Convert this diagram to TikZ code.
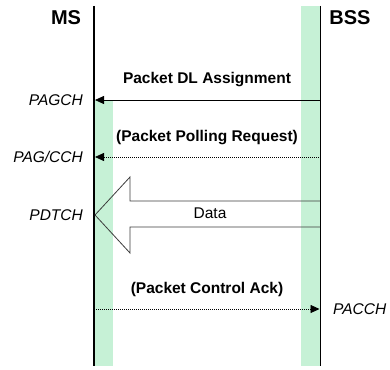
\documentclass[tikz,border=0pt]{standalone}
\usepackage{fontspec}
\setmainfont{Liberation Sans}
\usetikzlibrary{arrows.meta}
\definecolor{band}{RGB}{198,241,214}
\definecolor{arrowedge}{RGB}{60,60,60}
\tikzset{
  entity/.style={font=\fontsize{20}{24}\selectfont\bfseries, inner sep=0pt},
  msglabel/.style={font=\fontsize{15.5}{18}\selectfont\bfseries, inner sep=0pt},
  chanleft/.style={font=\fontsize{15.5}{18}\selectfont\itshape, inner sep=0pt, anchor=east},
  chanright/.style={font=\fontsize{15.5}{18}\selectfont\itshape, inner sep=0pt, anchor=west},
  lifeline/.style={line width=1.6pt, black},
  msg/.style={line width=0.8pt, -{Triangle[length=9pt,width=8pt]}},
  dottedmsg/.style={msg, dash pattern=on 1pt off 1pt},
}
\begin{document}
\begin{tikzpicture}[x=1pt,y=-1pt]
  \useasboundingbox (0,0) rectangle (390,369);

  % activity bands along the lifelines
  \fill[band] (95,100) rectangle (113,366);
  \fill[band] (301,6) rectangle (319.5,366);

  % entity headings
  \node[entity] (ms) at (66,18) {MS};
  \node[entity] (bss) at (350,18) {BSS};

  % lifelines
  \coordinate (msTop) at (94,6);
  \coordinate (msBot) at (94,366);
  \coordinate (bssTop) at (320.5,6);
  \coordinate (bssBot) at (320.5,366);
  \draw[lifeline] (msTop) -- (msBot);
  \draw[lifeline] (bssTop) -- (bssBot);

  % Packet DL Assignment
  \coordinate (a1) at (320.5,100);
  \coordinate (b1) at (95,100);
  \node[msglabel] (m1) at (207,80) {Packet DL Assignment};
  \node[chanleft] (c1) at (83,100) {PAGCH};
  \draw[msg] (a1) -- (b1);

  % Packet Polling Request
  \coordinate (a2) at (320.5,157);
  \coordinate (b2) at (95,157);
  \node[msglabel] (m2) at (207,138) {(Packet Polling Request)};
  \node[chanleft] (c2) at (83,157) {PAG/CCH};
  \draw[dottedmsg] (a2) -- (b2);

  % Data transfer (block arrow)
  \draw[arrowedge, line width=0.8pt]
    (320,201) -- (130,201) -- (130,177) -- (95,215) -- (130,253) -- (130,227) -- (320,227);
  \node[font=\fontsize{15.5}{18}\selectfont, inner sep=0pt] (data) at (210,213) {Data};
  \node[chanleft] (c3) at (83,215) {PDTCH};

  % Packet Control Ack
  \coordinate (a4) at (94,309);
  \coordinate (b4) at (319.5,309);
  \node[msglabel] (m4) at (207,289) {(Packet Control Ack)};
  \node[chanright] (c4) at (333,309) {PACCH};
  \draw[dottedmsg] (a4) -- (b4);
\end{tikzpicture}
\end{document}
